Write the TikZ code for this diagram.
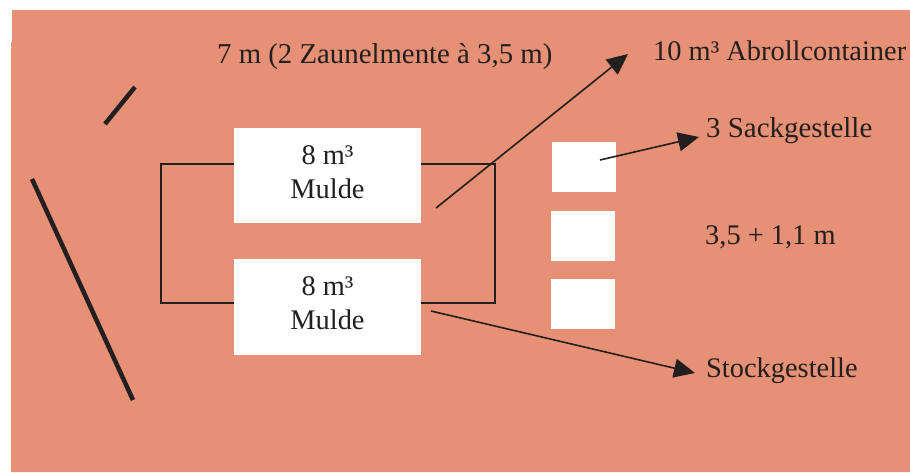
\documentclass[tikz,border=0pt]{standalone}
\usepackage{fontspec}
\setmainfont{Liberation Serif}
\usetikzlibrary{arrows.meta}
\definecolor{platz}{RGB}{230,144,117}
\definecolor{tinte}{RGB}{35,31,32}
\tikzset{
	kiste/.style={fill=white, inner sep=0pt},
	mitte/.style={inner sep=0pt, text=tinte, align=center},
	schrift/.style={anchor=base west, inner sep=0pt, text=tinte},
	zaun/.style={draw=tinte, line width=4.5pt},
	pfeil/.style={draw=tinte, line width=1.6pt, -{Triangle[length=21pt,width=19pt]}}
}
\begin{document}
\begin{tikzpicture}[x=1pt, y=-1pt, font=\fontsize{28.4}{33.5}\selectfont, line join=miter]
	\useasboundingbox (0,0) rectangle (910,472);
	\fill[platz] (12,10) -- (910,10) -- (910,472) -- (11,472) -- (11,42) -- (12,42) -- cycle;
	\path
	(160.5,163.5) coordinate (R1)
	(495,303) coordinate (R2)
	(32,179) coordinate (Z1)
	(133,400) coordinate (Z2)
	(105,124) coordinate (Z3)
	(135,87) coordinate (Z4)
	(436,208) coordinate (P1)
	(628,54) coordinate (P2)
	(600,160) coordinate (P3)
	(699,137) coordinate (P4)
	(431,311) coordinate (P5)
	(695,373) coordinate (P6)
	;
	\draw[tinte, line width=2pt] (R1) rectangle (R2);
	\node[kiste, minimum width=187pt, minimum height=95pt] (muldeA) at (327.5,175.5) {};
	\node[kiste, minimum width=187pt, minimum height=96pt] (muldeB) at (327.5,307) {};
	\node[mitte] (textA) at (327.5,172) {8 m³\\Mulde};
	\node[mitte] (textB) at (327.5,303) {8 m³\\Mulde};
	\node[kiste, minimum width=64pt, minimum height=50pt] (sackA) at (584,167) {};
	\node[kiste, minimum width=64pt, minimum height=50pt] (sackB) at (583,236) {};
	\node[kiste, minimum width=64pt, minimum height=50pt] (sackC) at (583,304) {};
	
	\draw[zaun] (Z1)--(Z2);
	\draw[zaun] (Z3)--(Z4);
	
	\node[schrift, font=\fontsize{28.8}{33.5}\selectfont] (zaunT) at (217,63) {7 m (2 Zaunelmente à 3,5 m)};
	\node[schrift] (abroll) at (653,60) {10 m³ Abrollcontainer};
	\node[schrift, font=\fontsize{28.9}{33.5}\selectfont] (sackT) at (706,137) {3 Sackgestelle};
	\node[schrift] (mass) at (705,244) {3,5 + 1,1 m};
	\node[schrift] (stock) at (706,377) {Stockgestelle};
	
	\draw[pfeil] (P1)--(P2);
	\draw[pfeil] (P3)--(P4);
	\draw[pfeil] (P5)--(P6);
\end{tikzpicture}
\end{document}
